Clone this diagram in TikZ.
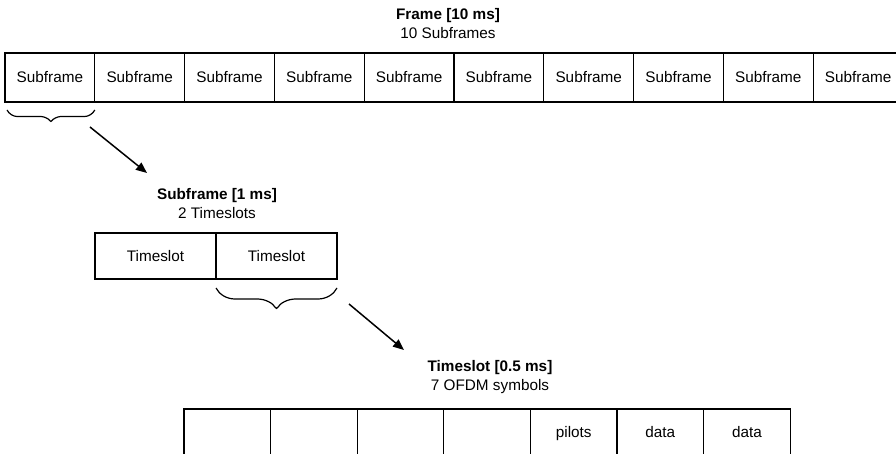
\documentclass[tikz,border=0pt]{standalone}
\usepackage{fontspec}
\setmainfont{Liberation Sans}
\usetikzlibrary{arrows.meta,decorations.pathreplacing,calc}

\tikzset{
  cell/.style={draw, line width=1.2pt, inner sep=0pt, outer sep=0pt,
               minimum height=#1, text height=12pt, text depth=1.5pt,
               font=\fontsize{15.3}{19}\selectfont},
  title/.style={align=center, inner sep=0pt, font=\fontsize{15.3}{19}\selectfont},
  bracket/.style={draw, line width=1.2pt, rounded corners=3pt,
                  decorate, decoration={brace, mirror, amplitude=#1}},
  pointer/.style={draw, line width=1.5pt, -{Triangle[length=11pt,width=9pt]}},
}

\begin{document}
\begin{tikzpicture}[x=1pt,y=-1pt]
  \useasboundingbox (0,0) rectangle (896,454);
  \clip (0,0) rectangle (896,454);

  % Frame: ten subframes
  \node[title] (frametitle) at (448,23.5) {\textbf{Frame [10 ms]}\\10 Subframes};
  \foreach \i in {1,...,10} {
    \node[cell=49pt, minimum width=89.8pt, anchor=north west]
      (s\i) at ({5+(\i-1)*89.8},53) {Subframe};
  }

  % Subframe: two timeslots
  \node[title] (subtitle) at (217,204) {\textbf{Subframe [1 ms]}\\2 Timeslots};
  \node[cell=46pt, minimum width=121pt, anchor=north west] (t1) at (95,233) {Timeslot};
  \node[cell=46pt, minimum width=121pt, anchor=north west] (t2) at (t1.north east) {Timeslot};

  % Timeslot: seven OFDM symbols
  \node[title] (slottitle) at (490,377) {\textbf{Timeslot [0.5 ms]}\\7 OFDM symbols};
  \foreach \i/\lbl in {1/,2/,3/,4/,5/pilots,6/data,7/data} {
    \node[cell=46pt, minimum width=86.6pt, anchor=north west]
      (o\i) at ({184+(\i-1)*86.6},409) {\lbl};
  }

  % Braces marking the expanded element
  \coordinate (b1l) at ($(s1.south west)+(2,8)$);
  \coordinate (b1r) at ($(s1.south east)+(0,8)$);
  \draw[bracket=13pt] (b1l) -- (b1r);
  \coordinate (b2l) at ($(t2.south west)+(0,9)$);
  \coordinate (b2r) at ($(t2.south east)+(0,9)$);
  \draw[bracket=22pt] (b2l) -- (b2r);

  % Arrows down to the next level
  \coordinate (a1s) at (90,127);
  \coordinate (a1e) at (147,173);
  \draw[pointer] (a1s) -- (a1e);
  \coordinate (a2s) at (349,304);
  \coordinate (a2e) at (404,350);
  \draw[pointer] (a2s) -- (a2e);
\end{tikzpicture}
\end{document}
